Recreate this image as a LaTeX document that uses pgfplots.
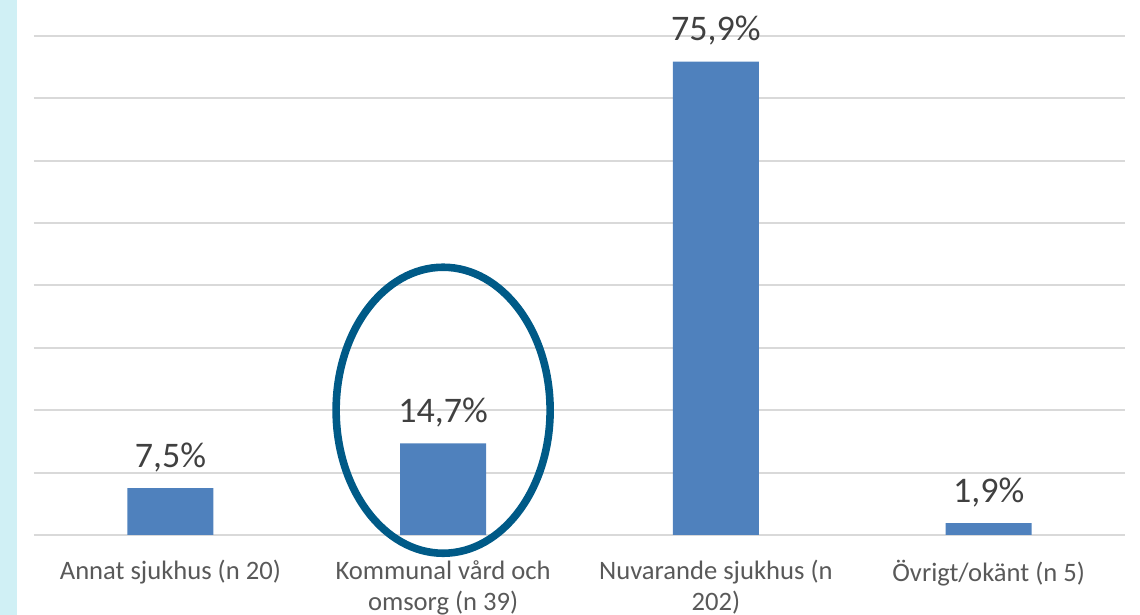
\documentclass[border=0pt]{standalone}
\usepackage{pgfplots}
\pgfplotsset{compat=1.18}
\usepackage{fontspec}
\setmainfont{Carlito}
\definecolor{barblue}{HTML}{4F81BD}
\definecolor{gridgray}{HTML}{D9D9D9}
\definecolor{ticktext}{HTML}{595959}
\definecolor{labtext}{HTML}{404040}
\definecolor{ringblue}{RGB}{0,90,135}
\definecolor{stripcyan}{HTML}{D0F0F5}
\begin{document}
\begin{tikzpicture}
\path[use as bounding box] (0,0) rectangle (570pt,307.5pt);
\fill[stripcyan] (0,0) rectangle (8.5pt,307.5pt);
\begin{axis}[
  at={(17pt,40pt)}, anchor=south west,
  scale only axis, width=545.5pt, height=249.5pt,
  xmin=-0.5, xmax=3.5, ymin=0, ymax=80,
  axis line style={draw=none},
  ytick={0,10,...,80}, yticklabels={},
  ymajorgrids, grid style={gridgray, line width=1pt},
  xtick={0,1,2,3},
  xticklabels={Annat sjukhus (n 20),{Kommunal vård och\\omsorg (n 39)},{Nuvarande sjukhus (n\\202)},Övrigt/okänt (n 5)},
  xticklabel style={font=\fontsize{13.3pt}{15.5pt}\selectfont, text=ticktext, align=center, anchor=north, inner sep=0pt, yshift=-12.5pt},
  major tick length=0pt, tick style={draw=none},
  clip=false,
  nodes near coords={\pgfmathprintnumber[assume math mode=true,use comma,fixed,fixed zerofill,precision=1]{\pgfplotspointmeta}\%},
  every node near coord/.append style={font=\fontsize{18pt}{20pt}\selectfont, text=labtext, anchor=base, yshift=10.5pt, inner sep=0pt},
]
\addplot[ybar, bar width=43pt, fill=barblue, draw=none] coordinates {(0,7.5) (1,14.7) (2,75.9) (3,1.9)};
\draw[ringblue, line width=3.8pt] (axis cs:1,20) ellipse [x radius=53.5pt, y radius=71.5pt];
\end{axis}
\end{tikzpicture}
\end{document}
